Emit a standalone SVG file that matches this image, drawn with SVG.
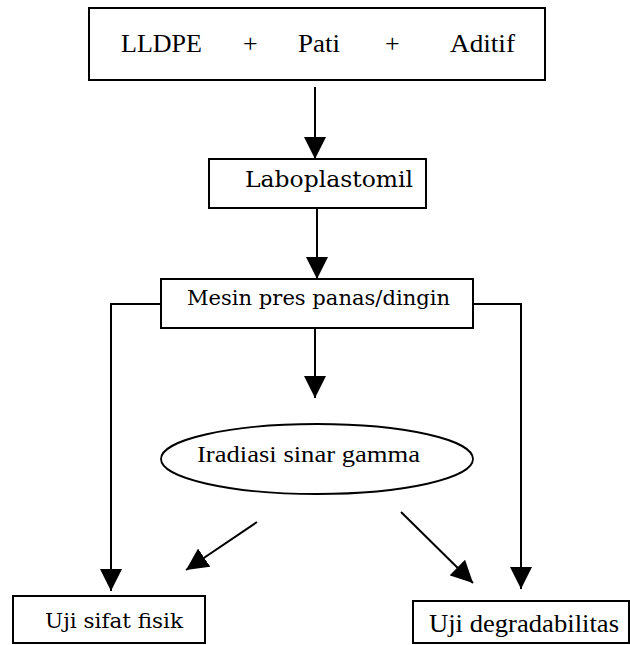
<svg xmlns="http://www.w3.org/2000/svg" width="630" height="645" viewBox="0 0 630 645">
<style>
.box{fill:#fff;stroke:#000;stroke-width:2}
.ell{fill:#fff;stroke:#000;stroke-width:1.8}
.con{fill:none;stroke:#000;stroke-width:2}
</style>
<defs>
<marker id="ah" markerUnits="userSpaceOnUse" markerWidth="22" markerHeight="22" viewBox="0 0 20 20" refX="20" refY="10" orient="auto">
<path d="M0,0 L20,10 L0,20 z" fill="#000"/>
</marker>
</defs>
<rect width="630" height="645" fill="#fff"/>
<g id="connectors">
<path class="con" d="M315,87 V159" marker-end="url(#ah)"/>
<path class="con" d="M317,208 V279" marker-end="url(#ah)"/>
<path class="con" d="M315,328 V398" marker-end="url(#ah)"/>
<path class="con" d="M161,304 H111 V591" marker-end="url(#ah)"/>
<path class="con" d="M473,304 H521 V589" marker-end="url(#ah)"/>
<path class="con" d="M257,522 L186,570" marker-end="url(#ah)"/>
<path class="con" d="M401,512 L473,583" marker-end="url(#ah)"/>
</g>
<g id="node-input" font-family="Liberation Serif, serif" font-size="26" fill="#000">
<rect class="box" x="89" y="8" width="456" height="72"/>
<text x="121" y="52" textLength="81" lengthAdjust="spacingAndGlyphs">LLDPE</text>
<text x="243" y="52">+</text>
<text x="298" y="52" textLength="42" lengthAdjust="spacingAndGlyphs">Pati</text>
<text x="385" y="52">+</text>
<text x="450" y="52" textLength="65" lengthAdjust="spacingAndGlyphs">Aditif</text>
</g>
<g id="node-laboplastomil" font-family="DejaVu Serif, serif" fill="#000">
<rect class="box" x="209" y="159" width="217" height="49"/>
<text x="245" y="187" font-size="23" textLength="168" lengthAdjust="spacingAndGlyphs">Laboplastomil</text>
</g>
<g id="node-mesin" font-family="DejaVu Serif, serif" fill="#000">
<rect class="box" x="161" y="279" width="312" height="49"/>
<text x="187" y="305" font-size="20.5" textLength="263" lengthAdjust="spacingAndGlyphs">Mesin pres panas/dingin</text>
</g>
<g id="node-iradiasi" font-family="Liberation Serif, serif" fill="#000">
<ellipse class="ell" cx="317" cy="459" rx="156" ry="35"/>
<text x="197" y="462" font-size="24" textLength="223" lengthAdjust="spacingAndGlyphs">Iradiasi sinar gamma</text>
</g>
<g id="node-fisik" font-family="DejaVu Serif, serif" fill="#000">
<rect class="box" x="13" y="596" width="192" height="47"/>
<text x="45" y="628" font-size="21" textLength="138" lengthAdjust="spacingAndGlyphs">Uji sifat fisik</text>
</g>
<g id="node-degradabilitas" font-family="Liberation Serif, serif" fill="#000">
<rect class="box" x="413" y="601" width="216" height="42"/>
<text x="429" y="632" font-size="26" textLength="190" lengthAdjust="spacingAndGlyphs">Uji degradabilitas</text>
</g>
</svg>
